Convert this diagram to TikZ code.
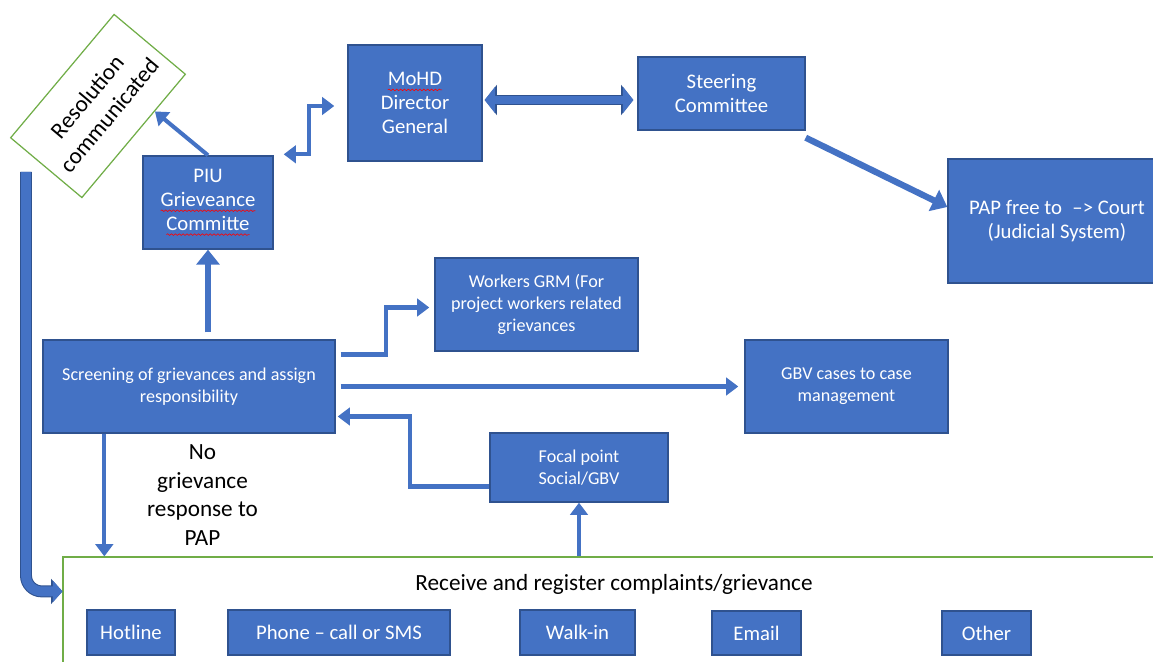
\documentclass[tikz,border=0pt]{standalone}
\usepackage{fontspec}
\setmainfont{Carlito}
\usetikzlibrary{arrows.meta, positioning, calc, decorations.pathmorphing}
\definecolor{boxblue}{HTML}{4472C4}
\definecolor{boxline}{HTML}{2F528F}
\definecolor{framegreen}{HTML}{70AD47}
\newcommand\bigfont{\fontsize{11.8}{13.6}\selectfont}
\newcommand\smallfont{\fontsize{10.3}{12.6}\selectfont}
\newcommand\labelfont{\fontsize{13.2}{16.4}\selectfont}
\newcommand\spellmark[1]{\tikz[baseline=(sw.base)]{\node (sw) [rectangle, inner sep=0pt, outer sep=0pt, minimum width=0pt, minimum height=0pt, draw=none, fill=none, anchor=base] {#1}; \draw[red, line width=0.35pt, decorate, decoration={snake, amplitude=0.45pt, segment length=2.2pt}] ([yshift=-2.4pt]sw.base west) -- ([yshift=-2.4pt]sw.base east);}}
\tikzstyle{stepbox} = [rectangle, draw=boxline, fill=boxblue, text=white, align=center, inner sep=0pt, line width=0.8pt, font=\bigfont]
\tikzstyle{smallbox} = [stepbox, font=\smallfont]
\tikzstyle{frame} = [rectangle, draw=framegreen, fill=white, line width=0.7pt]
\tikzstyle{arrow} = [draw=boxblue, line width=2.3pt, -{Triangle[length=7pt,width=10pt]}]
\tikzstyle{fatarrow} = [draw=boxblue, line width=3.6pt, -{Triangle[length=8.5pt,width=13pt]}]
\tikzstyle{blockarrow} = [draw=boxblue, line width=4.6pt, arrows={Triangle[length=6pt,width=15pt]-Triangle[length=6pt,width=15pt]}, preaction={draw=boxline, line width=5.8pt, arrows={Triangle[length=7pt,width=17pt]-Triangle[length=7pt,width=17pt]}}]
\tikzstyle{bentarrow} = [draw=boxblue, line width=5.6pt, rounded corners=9pt, -{Triangle[length=5.5pt,width=12pt]}, preaction={draw=boxline, line width=6.8pt, rounded corners=9pt, -{Triangle[length=6.5pt,width=14pt]}}]

\begin{document}
\begin{tikzpicture}[x=0.02cm, y=-0.02cm]
\useasboundingbox (0,0) rectangle (1153,662);

% intake frame with its channels
\node (recv) [frame, minimum width=21.94cm, minimum height=2.26cm] at (611.5,613.5) {};
\node (recvtitle) [font=\labelfont] at (614,584) {Receive and register complaints/grievance};
\node (hotline) [stepbox, minimum width=1.76cm, minimum height=0.9cm] at (131,632.5) {Hotline};
\node (phone) [stepbox, minimum width=4.44cm, minimum height=0.9cm] at (339,632.5) {Phone -- call or SMS};
\node (walkin) [stepbox, minimum width=2.3cm, minimum height=0.9cm] at (577.5,632.5) {Walk-in};
\node (email) [stepbox, minimum width=1.78cm, minimum height=0.88cm] at (756.5,633) {Email};
\node (other) [stepbox, minimum width=1.78cm, minimum height=0.88cm] at (986.5,633) {Other};

% screening level
\node (screen) [smallbox, minimum width=5.84cm, minimum height=1.86cm] at (189,386.5) {Screening of grievances and assign\\responsibility};
\node (workers) [smallbox, minimum width=4.06cm, minimum height=1.86cm] at (536.5,304.5) {Workers GRM (For\\project workers related\\grievances};
\node (gbv) [smallbox, minimum width=4.06cm, minimum height=1.86cm] at (846.5,386.5) {GBV cases to case\\management};
\node (focal) [smallbox, minimum width=3.56cm, minimum height=1.38cm] at (579,467.5) {Focal point\\Social/GBV};

% committees
\node (piu) [stepbox, minimum width=2.6cm, minimum height=1.86cm] at (208,202.5) {PIU\\\spellmark{Grieveance}\\\spellmark{Committe}};
\node (mohd) [stepbox, minimum width=2.68cm, minimum height=2.32cm] at (415,103) {\spellmark{MoHD}\\Director\\General};
\node (steer) [stepbox, minimum width=3.34cm, minimum height=1.46cm] at (721.5,93.5) {Steering\\Committee};
\node (pap) [stepbox, minimum width=4.36cm, minimum height=2.48cm] at (1057,221) {PAP free to\enspace--> Court\\(Judicial System)};
\node (res) [frame, rotate=50, minimum width=3.22cm, minimum height=1.86cm, align=center, font=\labelfont] at (98,106) {Resolution\\communicated};

\coordinate (retstart) at (26,172);
\coordinate (nogr) at ($(screen.south west)+(62,0)$);

\draw [bentarrow] (retstart) |- ($(recv.north west)+(0,35)$);
\draw [arrow] (piu.north) -- ($(res.south)!0.4!(res.south east)$);
\draw [arrow, arrows={Triangle[length=7pt,width=10pt]-Triangle[length=7pt,width=10pt]}] ($(piu.north east)+(10,-1)$) -- ++(25,0) |- ($(mohd.west)+(-13,3)$);
\draw [blockarrow] ($(mohd.east)+(2,-3)$) -- ($(mohd.east -| steer.west)+(-4,-3)$);
\draw [fatarrow] ($(steer.south east)+(0,7)$) -- ($(pap.west)+(0,-14)$);
\draw [fatarrow] ($(screen.north -| piu.south)+(0,-7)$) -- (piu.south);
\draw [arrow] ($(screen.east)+(5,-32)$) -- ++(45,0) |- ($(workers.west)+(-5,3)$);
\draw [arrow] ($(screen.east)+(5,0)$) -- ($(gbv.west)+(-6,0)$);
\draw [arrow] ($(focal.west)+(0,19)$) -- ++(-79,0) |- ($(screen.east)+(2,30)$);
\draw [arrow] (recv.north -| focal.south) -- (focal.south);
\draw [arrow] (nogr) -- (nogr |- recv.north) node (nolabel) [midway, right=0.7cm, align=center, font=\labelfont] {No\\grievance\\response to\\PAP};
\end{tikzpicture}
\end{document}
